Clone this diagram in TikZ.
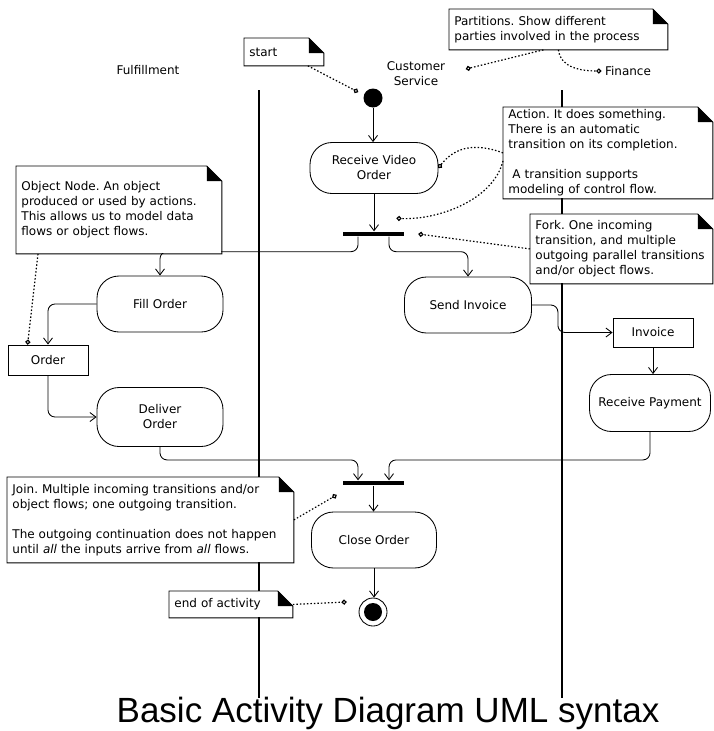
\documentclass[tikz,border=0pt]{standalone}
\usepackage{fontspec}
\setmainfont{DejaVu Sans}
\newfontfamily\titlefont{Liberation Sans}
\usetikzlibrary{shapes.misc,arrows.meta}
\newcommand{\diafont}{\fontsize{12}{15}\selectfont}
\frenchspacing

\begin{document}
\begin{tikzpicture}[x=1pt,y=-1pt,>={Straight Barb[length=6pt,width=9pt]},font=\diafont,line width=0.85pt]
	\tikzstyle{action} = [draw, fill=white, shape=rectangle, rounded corners=22pt, align=center, inner sep=2pt]
	\tikzstyle{object} = [draw, fill=white, shape=rectangle, minimum width=80pt, minimum height=29pt]
	\tikzstyle{bar} = [fill, shape=rectangle, minimum width=61pt, minimum height=4.5pt, inner sep=0pt]
	\tikzstyle{note} = [fill=white, anchor=north west, align=left, inner xsep=5pt, inner ysep=2pt]
	\tikzstyle{flow} = [->, rounded corners=7pt]
	\tikzstyle{link} = [-{Circle[open,length=5pt,width=5pt]}, line width=1.2pt, dash pattern=on 1.5pt off 2pt]
	\useasboundingbox (0,0) rectangle (713,731);
	%Swimlanes
	\draw[line width=1.2pt] (259,90) -- (259,698);
	\draw[line width=1.2pt] (562,90) -- (562,698);
	\node (fulfil) at (148,70) {Fulfillment};
	\node[align=center] (customer) at (416,74) {Customer\\Service};
	\node (finance) at (628,71) {Finance};
	%Activity nodes
	\node[circle, fill, minimum size=19pt, inner sep=0pt] (init) at (373,98) {};
	\node[action, minimum width=128pt, minimum height=51pt] (receive) at (374,168) {Receive Video\\Order};
	\node[bar] (fork) at (373.5,234) {};
	\node[action, minimum width=126pt, minimum height=56pt] (fill) at (160,304) {Fill Order};
	\node[action, minimum width=127pt, minimum height=56pt] (send) at (468,305) {Send Invoice};
	\node[object, minimum height=30pt] (order) at (48,360) {Order};
	\node[action, minimum width=126pt, minimum height=59pt] (deliver) at (160,417) {Deliver\\Order};
	\node[object] (invoice) at (653,332.5) {Invoice};
	\node[action, minimum width=121pt, minimum height=57pt] (payment) at (650,403) {Receive Payment};
	\node[bar] (join) at (373.5,483) {};
	\node[action, minimum width=125pt, minimum height=56pt] (close) at (374,540) {Close Order};
	\node[circle, draw, fill=white, minimum size=28pt, inner sep=0pt] (final) at (373,612) {};
	\node[circle, fill, minimum size=18pt, inner sep=0pt] (finaldot) at (final) {};
	%Transitions
	\draw[->] (init.south) -- (init.south |- receive.north);
	\draw[->] (receive.south) -- (receive.south |- fork.north);
	\draw[flow] ([xshift=-15.5pt]fork.south) -- ++(0,15) -| (fill.north);
	\draw[flow] ([xshift=15.5pt]fork.south) -- ++(0,15) -| (send.north);
	\draw[flow] (fill.west) -| (order.north);
	\draw[flow] (order.south) |- (deliver.west);
	\draw[flow] (send.east) -- ++(26,0) |- (invoice.west);
	\draw[->] (invoice.south) -- (invoice.south |- payment.north);
	\draw[flow] (deliver.south) -- ++(0,13) -| ([xshift=-15.5pt]join.north);
	\draw[flow] (payment.south) -- ++(0,28) -| ([xshift=15.5pt]join.north);
	\draw[->] (join.south) -- (join.south |- close.north);
	\draw[->] (close.south) -- (close.south |- final.north);
	%Notes
	\node[note, text width=69pt, minimum height=27pt] (startnote) at (244,38) {start};
	\node[note, text width=208pt, minimum height=40pt] (partnote) at (449,9) {Partitions. Show different\\parties involved in the process};
	\node[note, text width=199pt, minimum height=91pt] (actionnote) at (503,107) {Action. It does something.\\There is an automatic\\transition on its completion.\\[15pt]\hspace*{4pt}A transition supports\\modeling of control flow.};
	\node[note, text width=172pt, minimum height=69pt] (forknote) at (530,214) {Fork. One incoming\\transition, and multiple\\outgoing parallel transitions\\and/or object flows.};
	\node[note, text width=195pt, minimum height=87pt] (objnote) at (16,166) {Object Node. An object\\produced or used by actions.\\This allows us to model data\\flows or object flows.};
	\node[note, text width=276pt, minimum height=85pt] (joinnote) at (7,477) {Join. Multiple incoming transitions and/or\\object flows; one outgoing transition.\\[15pt]The outgoing continuation does not happen\\until \textit{all} the inputs arrive from \textit{all} flows.};
	\node[note, text width=113pt, minimum height=26pt] (endnote) at (169,591) {end of activity};
	\foreach \n in {startnote,partnote,actionnote,forknote,objnote,joinnote,endnote} {
		\draw[line width=0.9pt] (\n.north west) -- ([xshift=-15pt]\n.north east) -- ([yshift=-15pt]\n.north east) -- (\n.south east) -- (\n.south west) -- cycle;
		\fill ([xshift=-15pt]\n.north east) -- ([xshift=-15pt,yshift=-15pt]\n.north east) -- ([yshift=-15pt]\n.north east) -- cycle;
	}
	%Note links
	\draw[link] ([xshift=-16pt]startnote.south east) -- ([xshift=-5pt,yshift=6pt]init.west);
	\draw[link] ([xshift=-15pt]partnote.south) -- ([xshift=17pt,yshift=5pt]customer.east);
	\draw[link] (partnote.south) .. controls +(2,18) and +(-20,0) .. (finance.west);
	\draw[link] (actionnote.west) .. controls +(-32,-12) and +(14,-18) .. (receive.east);
	\draw[link] ([yshift=-8pt]actionnote.west) .. controls +(-10,40) and +(40,2) .. ([xshift=23pt,yshift=13pt]fork.north);
	\draw[link] (forknote.west) -- ([xshift=14pt]fork.east);
	\draw[link] ([xshift=22pt]objnote.south west) -- ([xshift=20pt]order.north west);
	\draw[link] (joinnote.east) -- ([xshift=-6pt,yshift=-12pt]join.west);
	\draw[link] (endnote.east) -- ([xshift=-12pt,yshift=10pt]final.west);
	%Title
	\node[font=\titlefont\fontsize{35}{40}\selectfont, anchor=base] (title) at (388,722) {Basic Activity Diagram UML syntax};
\end{tikzpicture}
\end{document}
